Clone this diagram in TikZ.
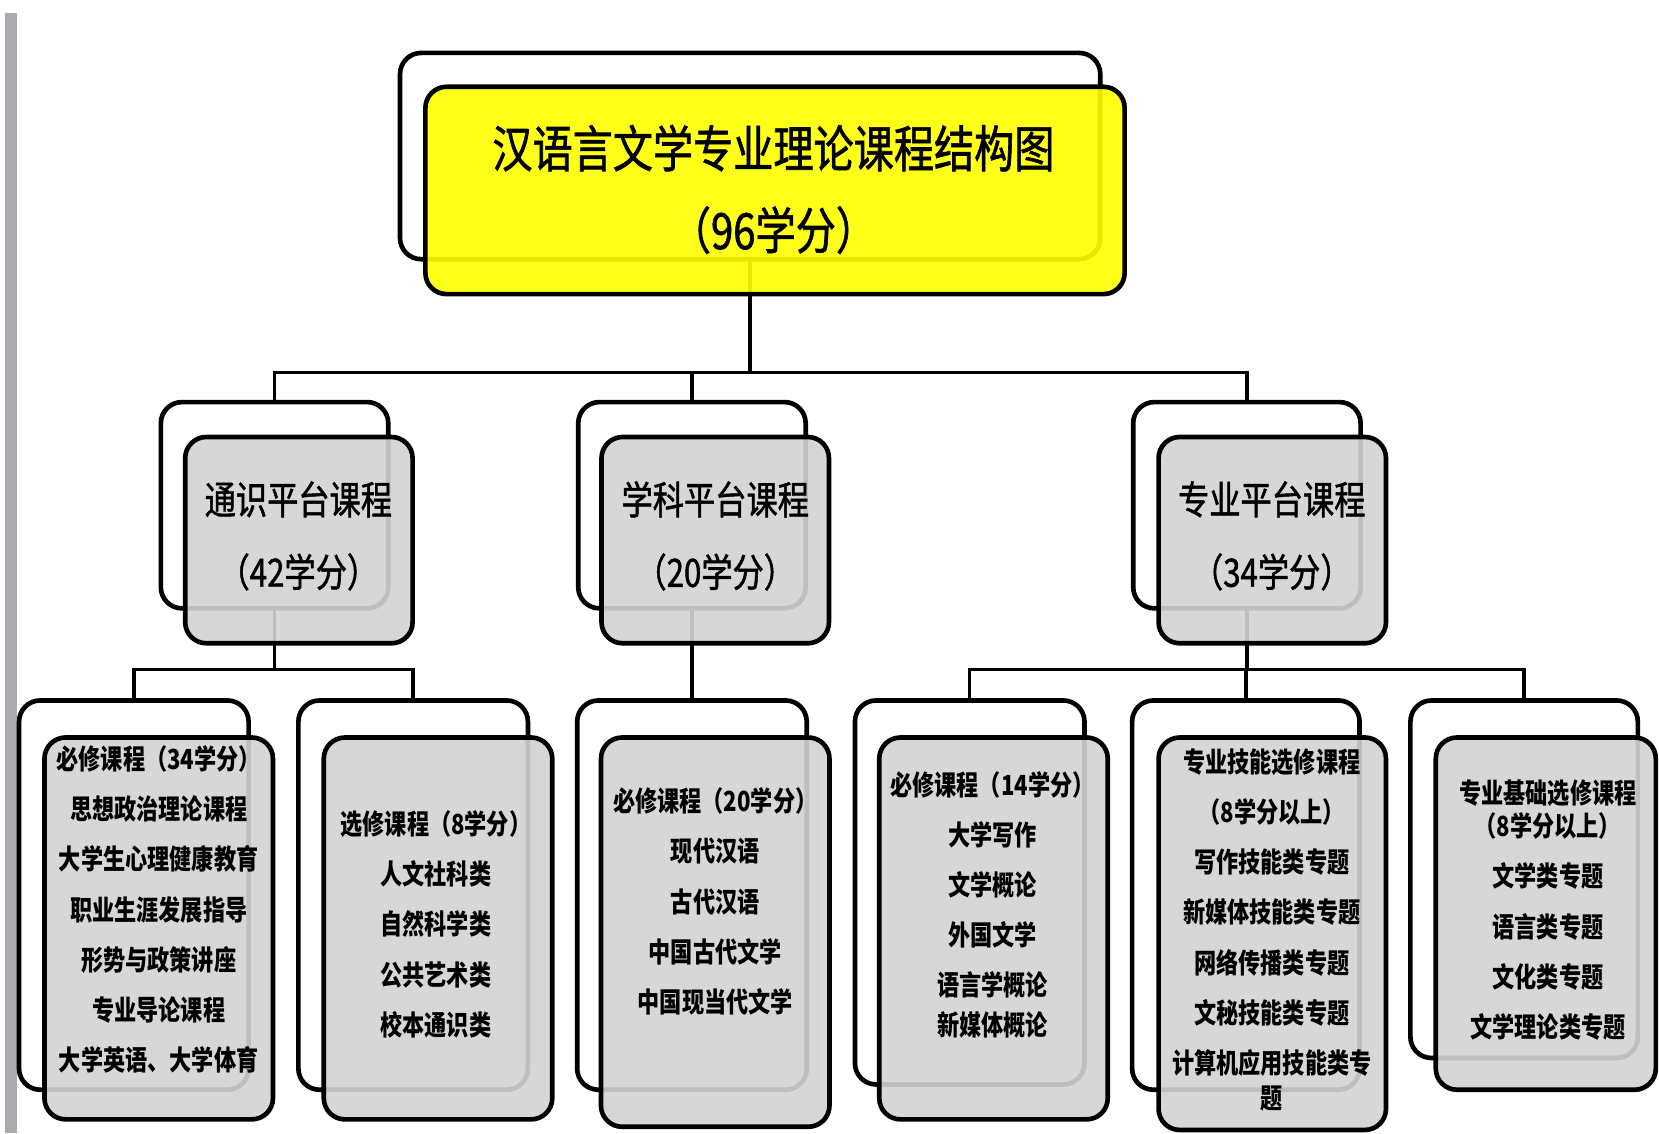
\documentclass[tikz,border=0pt]{standalone}
\usepackage{fontspec}
\usepackage{tikz}
\usetikzlibrary{arrows, shapes}
\newfontfamily\cjk{Noto Sans CJK SC}[FakeStretch=0.8]
\newfontfamily\cjkmid{Noto Sans CJK SC}[FakeStretch=0.8, FakeBold=1.2]
\definecolor{titleyellow}{RGB}{255,255,0}
\definecolor{boxgray}{RGB}{211,211,211}
\definecolor{bargray}{RGB}{169,171,175}

\begin{document}
\begin{tikzpicture}[x=0.02cm, y=-0.02cm,
  back/.style={rectangle, draw, line width=2.5pt, rounded corners=0.4cm, fill=white, inner sep=0pt, outer sep=0pt},
  front/.style={back, fill=boxgray, fill opacity=0.9},
  wire/.style={draw, line width=1.8pt},
  bigtext/.style={align=center, font=\cjkmid\fontsize{27}{44}\selectfont},
  midtext/.style={align=center, font=\cjkmid\fontsize{21}{39}\selectfont},
  smalltext/.style={align=center, font=\cjk\bfseries\fontsize{14.9}{27}\selectfont}]
\useasboundingbox (0,0) rectangle (1568,1071);
\fill[bargray] (5,12) rectangle (16,1071);

% back boxes
\node[back, minimum width=13.24cm, minimum height=3.9cm] (tback) at (709,147.5) {};
\node[back, minimum width=4.3cm, minimum height=3.9cm] (lback) at (259.5,477.5) {};
\node[back, minimum width=4.3cm, minimum height=3.9cm] (mback) at (654,477.5) {};
\node[back, minimum width=4.3cm, minimum height=3.9cm] (rback) at (1178.5,477.5) {};
\node[back, minimum width=4.34cm, minimum height=7.36cm] (aback) at (126.5,846) {};
\node[back, minimum width=4.34cm, minimum height=7.36cm] (bback) at (390.5,846) {};
\node[back, minimum width=4.34cm, minimum height=7.36cm] (cback) at (654,846) {};
\node[back, minimum width=4.34cm, minimum height=7.26cm] (dback) at (916.5,843.5) {};
\node[back, minimum width=4.3cm, minimum height=7.36cm] (eback) at (1177.5,846) {};
\node[back, minimum width=4.3cm, minimum height=6.76cm] (fback) at (1440.5,831) {};

% connectors
\coordinate (bus1) at (0,352);
\coordinate (bus2) at (0,633);
\draw[wire] (tback.south) -- (tback |- bus1);
\draw[wire] (lback.north) -- (lback |- bus1) -- (rback |- bus1) -- (rback.north);
\draw[wire] (mback.north) -- (mback |- bus1);
\draw[wire] (lback.south) -- (lback |- bus2);
\draw[wire] (aback.north) -- (aback |- bus2) -- (bback |- bus2) -- (bback.north);
\draw[wire] (mback.south) -- (cback.north);
\draw[wire] (rback.south) -- (rback |- bus2);
\draw[wire] (dback.north) -- (dback |- bus2) -- (fback |- bus2) -- (fback.north);
\draw[wire] (eback.north) -- (eback |- bus2);

% front boxes
\node[front, fill=titleyellow, minimum width=13.22cm, minimum height=3.92cm] (tfront) at (732.5,180) {};
\node[front, minimum width=4.3cm, minimum height=3.9cm] (lfront) at (282.5,510.5) {};
\node[front, minimum width=4.3cm, minimum height=3.9cm] (mfront) at (676,510.5) {};
\node[front, minimum width=4.3cm, minimum height=3.9cm] (rfront) at (1202.5,510.5) {};
\node[front, minimum width=4.32cm, minimum height=7.22cm] (afront) at (150,877.5) {};
\node[front, minimum width=4.32cm, minimum height=7.22cm] (bfront) at (414,877.5) {};
\node[front, minimum width=4.32cm, minimum height=7.36cm] (cfront) at (676,881) {};
\node[front, minimum width=4.32cm, minimum height=7.22cm] (dfront) at (939,877.5) {};
\node[front, minimum width=4.3cm, minimum height=7.42cm] (efront) at (1202.5,882.5) {};
\node[front, minimum width=4.16cm, minimum height=6.66cm] (ffront) at (1461,863.5) {};

% texts
\node[bigtext] (ttext) at (731,179) {汉语言文学专业理论课程结构图\\（96学分）};
\node[midtext] (ltext) at (282,506.5) {通识平台课程\\（42学分）};
\node[midtext] (mtext) at (676,506.5) {学科平台课程\\（20学分）};
\node[midtext] (rtext) at (1202,506.5) {专业平台课程\\（34学分）};
\node[smalltext] (atext) at (150,859.5) {必修课程（34学分）\\思想政治理论课程\\大学生心理健康教育\\职业生涯发展指导\\形势与政策讲座\\专业导论课程\\大学英语、大学体育};
\node[smalltext] (btext) at (412,873.5) {选修课程（8学分）\\人文社科类\\自然科学类\\公共艺术类\\校本通识类};
\node[smalltext] (ctext) at (676,852) {必修课程（20学分）\\现代汉语\\古代汉语\\中国古代文学\\中国现当代文学};
\node[smalltext] (dtext) at (938,855) {必修课程（14学分）\\大学写作\\文学概论\\外国文学\\语言学概论\\[-5.7pt]新媒体概论};
\node[smalltext] (etext) at (1202,879) {专业技能选修课程\\（8学分以上）\\写作技能类专题\\新媒体技能类专题\\网络传播类专题\\文秘技能类专题\\计算机应用技能类专\\[-8pt]题};
\node[smalltext] (ftext) at (1463,860) {专业基础选修课程\\[-9pt]（8学分以上）\\文学类专题\\语言类专题\\文化类专题\\文学理论类专题};
\end{tikzpicture}
\end{document}
